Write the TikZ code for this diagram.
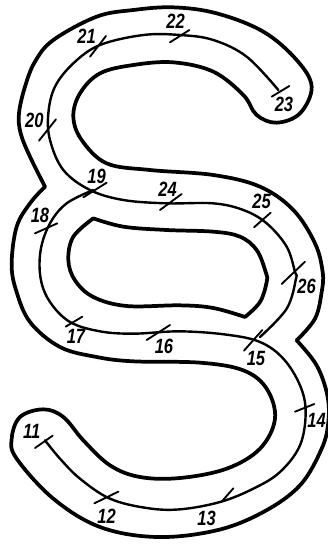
\documentclass[tikz,border=0pt]{standalone}
\usepackage{fontspec}
\setmainfont{Liberation Sans}
\begin{document}
\begin{tikzpicture}[x=0.25pt,y=-0.25pt,
  wall/.style={line width=2.8pt,line cap=round,line join=round},
  seam/.style={line width=1.8pt,line cap=round,line join=round},
  tick/.style={line width=1.4pt,line cap=round},
  lab/.style={inner sep=0pt,font=\fontsize{15.5pt}{16pt}\selectfont\bfseries\itshape,xscale=.8}]
\useasboundingbox (0,0) rectangle (984,1632);
\fill[white] (0,0) rectangle (984,1632);
% outer wall, upper part from left notch to right notch
\draw[wall] plot[smooth,tension=.6] coordinates {(135,560)(90,470)(62,400)(57,340)(75,260)(105,185)(160,120)(290,50)(400,30)(520,22)(650,40)(790,95)(890,180)(935,260)(900,340)(830,368)(770,345)(730,285)(640,215)(520,187)(400,195)(300,220)(240,280)(220,350)(245,420)(320,490)(450,510)(640,525)(780,560)(880,630)(945,730)(968,816)(965,876)(945,956)(890,1021)};
% outer wall, lower part from right notch to left notch
\draw[wall] plot[smooth,tension=.6] coordinates {(890,1021)(950,1096)(982,1186)(985,1266)(965,1346)(900,1456)(790,1536)(650,1591)(470,1611)(300,1581)(160,1496)(50,1376)(35,1316)(60,1251)(130,1228)(190,1251)(250,1321)(330,1396)(420,1431)(540,1434)(680,1406)(780,1346)(825,1256)(800,1166)(730,1111)(600,1088)(400,1084)(290,1071)(180,1041)(90,966)(48,870)(35,790)(50,680)(90,610)(135,560)};
% inner island
\draw[wall] plot[smooth,tension=.6] coordinates {(280,655)(370,680)(500,690)(640,695)(720,710)(770,750)(797,816)(800,846)(780,906)(735,951)};
\draw[wall] plot[smooth,tension=.6] coordinates {(735,951)(640,924)(540,916)(380,918)(280,891)(225,841)(205,780)(220,710)(280,655)};
% centre strands
\draw[seam] plot[smooth,tension=.6] coordinates {(835,270)(740,170)(640,120)(540,105)(430,105)(300,135)(220,190)(165,260)(145,340)(150,420)(190,510)(270,570)(370,600)(500,610)(640,610)(730,630)(800,670)(860,740)(885,816)(888,836)(860,926)(780,1011)};
\draw[seam] plot[smooth,tension=.6] coordinates {(280,570)(200,610)(150,670)(122,750)(122,836)(150,906)(210,966)(300,994)(400,1001)(540,994)(680,1004)(780,1026)(850,1076)(900,1156)(917,1236)(900,1336)(840,1416)(760,1466)(660,1506)(540,1528)(440,1524)(330,1496)(240,1436)(180,1376)(135,1321)};
% ticks
\foreach \a/\b in {{270,170}/{318,108},{510,127}/{568,90},{815,290}/{868,258},{117,422}/{168,358},{250,592}/{320,548},{105,700}/{172,670},{480,630}/{545,582},{762,682}/{812,638},{845,852}/{915,785},{197,980}/{247,950},{440,1020}/{510,975},{732,1052}/{787,990},{885,1235}/{943,1212},{665,1505}/{700,1465},{283,1510}/{355,1475},{105,1344}/{158,1307}}
  \draw[tick] (\a) -- (\b);
% labels
\node[lab] (n21) at (260,108) {21};
\node[lab] (n22) at (527,65) {22};
\node[lab] (n23) at (852,313) {23};
\node[lab] (n20) at (103,362) {20};
\node[lab] (n19) at (290,528) {19};
\node[lab] (n24) at (503,567) {24};
\node[lab] (n25) at (785,605) {25};
\node[lab] (n18) at (120,645) {18};
\node[lab] (n26) at (920,860) {26};
\node[lab] (n17) at (228,1008) {17};
\node[lab] (n16) at (492,1040) {16};
\node[lab] (n15) at (768,1075) {15};
\node[lab] (n14) at (950,1262) {14};
\node[lab] (n11) at (95,1295) {11};
\node[lab] (n12) at (320,1550) {12};
\node[lab] (n13) at (620,1555) {13};
\end{tikzpicture}
\end{document}
